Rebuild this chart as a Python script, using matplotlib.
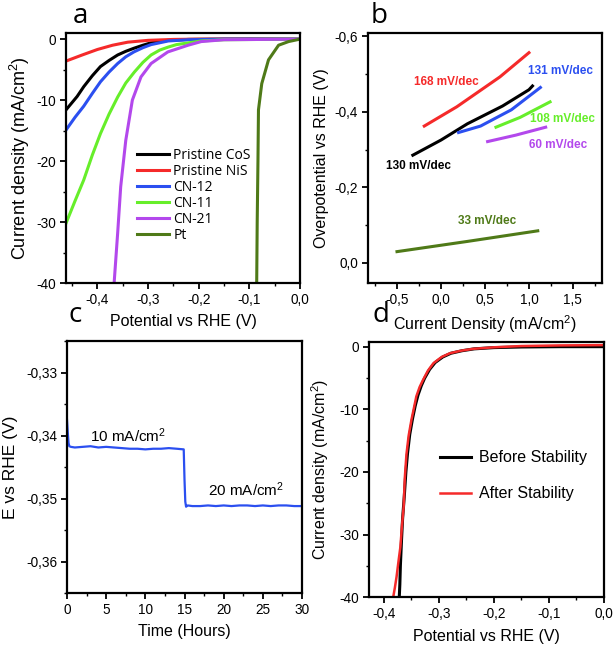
import matplotlib
matplotlib.use('Agg')
import matplotlib.pyplot as plt
from matplotlib.ticker import MultipleLocator, FuncFormatter

plt.rcParams['font.family'] = ['Liberation Sans', 'DejaVu Sans']
plt.rcParams['mathtext.fontset'] = 'custom'
plt.rcParams['mathtext.rm'] = 'Liberation Sans'
plt.rcParams['mathtext.it'] = 'Liberation Sans:italic'

# --- panel a: LSV curves ---
pot_cos = [-0.462, -0.44, -0.427, -0.41, -0.394, -0.377, -0.36, -0.344, -0.328, -0.31, -0.294, -0.26, -0.22, -0.15, 0.0]
cur_cos = [-11.6, -9.4, -7.8, -6.0, -4.5, -3.5, -2.6, -2.0, -1.5, -1.0, -0.6, -0.2, -0.05, 0.0, 0.0]
pot_nis = [-0.462, -0.43, -0.40, -0.37, -0.34, -0.30, -0.25, -0.20, 0.0]
cur_nis = [-3.6, -2.6, -1.7, -1.0, -0.5, -0.2, -0.05, 0.0, 0.0]
pot_cn12 = [-0.462, -0.444, -0.427, -0.41, -0.394, -0.377, -0.36, -0.344, -0.328, -0.31, -0.294, -0.26, -0.22, -0.15, 0.0]
cur_cn12 = [-14.9, -12.8, -11.0, -8.9, -7.0, -5.4, -4.0, -2.9, -2.1, -1.4, -0.9, -0.3, -0.1, 0.0, 0.0]
pot_cn11 = [-0.462, -0.444, -0.427, -0.41, -0.394, -0.377, -0.36, -0.344, -0.327, -0.31, -0.294, -0.277,
            -0.26, -0.244, -0.227, -0.195, -0.15, 0.0]
cur_cn11 = [-30.2, -26.5, -23.1, -19.0, -15.5, -12.3, -9.5, -7.2, -5.4, -3.8, -2.6, -1.8,
            -1.3, -0.9, -0.7, -0.3, -0.1, 0.0]
pot_cn21 = [-0.367, -0.360, -0.354, -0.344, -0.331, -0.314, -0.294, -0.261, -0.221, -0.195, -0.15, 0.0]
cur_cn21 = [-40.0, -31.8, -24.2, -16.6, -10.0, -6.2, -4.0, -2.1, -1.0, -0.4, -0.1, 0.0]
pot_pt = [-0.0855, -0.0845, -0.083, -0.082, -0.0755, -0.0622, -0.0423, -0.0225, 0.0]
cur_pt = [-40.0, -30.0, -20.0, -11.6, -7.3, -3.4, -1.0, -0.4, 0.0]

# --- panel b: Tafel plots ---
taf_cos_j = [-0.32, 0.0, 0.3, 0.7, 1.0, 1.04]
taf_cos_eta = [-0.285, -0.325, -0.368, -0.415, -0.458, -0.468]
taf_nis_j = [-0.19, 0.18, 0.67, 1.0]
taf_nis_eta = [-0.362, -0.413, -0.492, -0.556]
taf_cn12_j = [0.2, 0.45, 0.8, 1.13]
taf_cn12_eta = [-0.345, -0.362, -0.405, -0.464]
taf_cn11_j = [0.625, 0.9, 1.24]
taf_cn11_eta = [-0.359, -0.385, -0.426]
taf_cn21_j = [0.53, 0.85, 1.19]
taf_cn21_eta = [-0.321, -0.338, -0.359]
taf_pt_j = [-0.5, 0.3, 1.1]
taf_pt_eta = [-0.030, -0.057, -0.085]
slope_labels = ['130 mV/dec', '168 mV/dec', '131 mV/dec', '108 mV/dec', '60 mV/dec', '33 mV/dec']
slope_x = [-0.25, 0.06, 1.36, 1.38, 1.33, 0.53]
slope_y = [-0.256, -0.478, -0.507, -0.381, -0.312, -0.111]

# --- panel c: chronopotentiometry ---
time_h = [0, 0.1, 0.2, 0.3, 0.5, 1, 2, 3, 4, 5, 6, 7, 8, 9, 10, 11, 12, 13, 14, 14.9,
          15.0, 15.1, 15.2, 15.4, 16, 17, 18, 19, 20, 21, 22, 23, 24, 25, 26, 27, 28, 29, 30]
e_rhe = [-0.3375, -0.3395, -0.3412, -0.3417, -0.3418, -0.3419, -0.3418, -0.3417, -0.3419, -0.3418,
         -0.3419, -0.3420, -0.3421, -0.3421, -0.3422, -0.3421, -0.3421, -0.3420, -0.3421, -0.3422,
         -0.3470, -0.3505, -0.3513, -0.3511, -0.3512, -0.3512, -0.3511, -0.3512, -0.3511, -0.3512,
         -0.3511, -0.3511, -0.3512, -0.3511, -0.3512, -0.3511, -0.3511, -0.3512, -0.3512]

# --- panel d: before / after stability ---
pot_before = [-0.372, -0.371, -0.370, -0.368, -0.366, -0.363, -0.360, -0.357, -0.353, -0.348, -0.343, -0.338,
              -0.332, -0.326, -0.317, -0.307, -0.293, -0.278, -0.258, -0.236, -0.20, -0.15, -0.08, 0.0]
cur_before = [-40, -38, -35, -31, -27.5, -24, -20, -17, -14, -11.5, -9.4, -7.7,
              -6.2, -5.0, -3.6, -2.5, -1.6, -1.0, -0.6, -0.3, -0.1, 0.0, 0.05, 0.05]
pot_after = [-0.383, -0.380, -0.377, -0.373, -0.370, -0.367, -0.364, -0.362, -0.359, -0.355, -0.350, -0.345,
             -0.341, -0.335, -0.329, -0.320, -0.310, -0.295, -0.280, -0.260, -0.238, -0.20, -0.15, -0.08, 0.0]
cur_after = [-40, -38.5, -36.8, -34, -32, -28.5, -25.5, -21, -17.2, -14.2, -11.7, -9.6,
             -7.9, -6.4, -5.3, -3.8, -2.6, -1.6, -1.0, -0.6, -0.3, -0.05, 0.15, 0.25, 0.3]

BLACK = '#000000'
RED = '#f52a2a'
BLUE = '#2b4ff0'
GREEN = '#66ee2a'
PURPLE = '#b348ec'
OLIVE = '#4f7a18'

TICK_FS = 9.8
LW = 2.2


def comma(fmt):
    return FuncFormatter(lambda v, p: (fmt % v).replace('.', ',').replace('-0,0', '0,0'))


def style_axes(ax):
    for s in ax.spines.values():
        s.set_linewidth(1.6)
    ax.tick_params(which='major', direction='out', length=4, width=1.3, labelsize=TICK_FS,
                   top=False, right=False, pad=3)
    ax.tick_params(which='minor', direction='out', length=2, width=1.0, top=False, right=False)


fig = plt.figure(figsize=(6.14, 6.45), dpi=100)

# panel a
ax_a = fig.add_axes([0.1075, 0.5612, 0.3811, 0.3876])
ax_a.plot(pot_cos, cur_cos, color=BLACK, lw=LW, label='Pristine CoS')
ax_a.plot(pot_nis, cur_nis, color=RED, lw=LW, label='Pristine NiS')
ax_a.plot(pot_cn12, cur_cn12, color=BLUE, lw=LW, label='CN-12')
ax_a.plot(pot_cn11, cur_cn11, color=GREEN, lw=LW, label='CN-11')
ax_a.plot(pot_cn21, cur_cn21, color=PURPLE, lw=LW, label='CN-21')
ax_a.plot(pot_pt, cur_pt, color=OLIVE, lw=LW, label='Pt')
ax_a.set_xlim(-0.462, 0.0)
ax_a.set_ylim(-40, 1)
ax_a.xaxis.set_major_locator(MultipleLocator(0.1))
ax_a.xaxis.set_minor_locator(MultipleLocator(0.05))
ax_a.yaxis.set_major_locator(MultipleLocator(10))
ax_a.yaxis.set_minor_locator(MultipleLocator(5))
ax_a.xaxis.set_major_formatter(comma('%.1f'))
ax_a.yaxis.set_major_formatter(FuncFormatter(lambda v, p: '%d' % v))
style_axes(ax_a)
ax_a.set_xlabel('Potential vs RHE (V)', fontsize=11.5, labelpad=5)
ax_a.set_ylabel('Current density (mA/cm$^2$)', fontsize=13, labelpad=3)
ax_a.legend(loc='upper left', bbox_to_anchor=(0.305, 0.54), frameon=False, handlelength=2.3,
            handletextpad=0.3, labelspacing=0.07, borderaxespad=0, borderpad=0,
            prop={'family': 'Open Sans', 'size': 10})
fig.text(0.118, 0.975, 'a', fontsize=20, family='Open Sans', va='center', ha='left')

# panel b
ax_b = fig.add_axes([0.5993, 0.5612, 0.3811, 0.3876])
ax_b.plot(taf_cos_j, taf_cos_eta, color=BLACK, lw=LW)
ax_b.plot(taf_nis_j, taf_nis_eta, color=RED, lw=LW)
ax_b.plot(taf_cn12_j, taf_cn12_eta, color=BLUE, lw=LW)
ax_b.plot(taf_cn11_j, taf_cn11_eta, color=GREEN, lw=LW)
ax_b.plot(taf_cn21_j, taf_cn21_eta, color=PURPLE, lw=LW)
ax_b.plot(taf_pt_j, taf_pt_eta, color=OLIVE, lw=LW)
for txt, x, y, c in zip(slope_labels, slope_x, slope_y, [BLACK, RED, BLUE, GREEN, PURPLE, OLIVE]):
    ax_b.text(x, y, txt, color=c, fontsize=8.5, fontweight='bold', ha='center', va='center')
ax_b.set_xlim(-0.83, 1.83)
ax_b.set_ylim(0.053, -0.608)
ax_b.xaxis.set_major_locator(MultipleLocator(0.5))
ax_b.xaxis.set_minor_locator(MultipleLocator(0.25))
ax_b.yaxis.set_major_locator(MultipleLocator(0.2))
ax_b.yaxis.set_minor_locator(MultipleLocator(0.1))
ax_b.xaxis.set_major_formatter(comma('%.1f'))
ax_b.yaxis.set_major_formatter(comma('%.1f'))
style_axes(ax_b)
ax_b.set_xlabel('Current Density (mA/cm$^2$)', fontsize=11.5, labelpad=5)
ax_b.set_ylabel('Overpotential vs RHE (V)', fontsize=11.5, labelpad=4)
fig.text(0.604, 0.975, 'b', fontsize=20, family='Open Sans', va='center', ha='left')

# panel c
ax_c = fig.add_axes([0.1091, 0.0806, 0.3828, 0.3907])
ax_c.plot(time_h, e_rhe, color=BLUE, lw=1.6)
ax_c.text(7.8, -0.3401, '10 mA/cm$^2$', fontsize=11, ha='center', va='center')
ax_c.text(22.9, -0.3486, '20 mA/cm$^2$', fontsize=11, ha='center', va='center')
ax_c.set_xlim(0, 30)
ax_c.set_ylim(-0.365, -0.325)
ax_c.xaxis.set_major_locator(MultipleLocator(5))
ax_c.xaxis.set_minor_locator(MultipleLocator(2.5))
ax_c.yaxis.set_major_locator(MultipleLocator(0.01))
ax_c.yaxis.set_minor_locator(MultipleLocator(0.005))
ax_c.xaxis.set_major_formatter(FuncFormatter(lambda v, p: '%d' % v))
ax_c.yaxis.set_major_formatter(comma('%.2f'))
style_axes(ax_c)
ax_c.set_xlabel('Time (Hours)', fontsize=11.5, labelpad=5)
ax_c.set_ylabel('E vs RHE (V)', fontsize=12.5, labelpad=6)
fig.text(0.112, 0.512, 'c', fontsize=20, family='Open Sans', va='center', ha='left')

# panel d
ax_d = fig.add_axes([0.601, 0.0744, 0.3827, 0.3954])
ax_d.plot(pot_before, cur_before, color=BLACK, lw=LW, label='Before Stability')
ax_d.plot(pot_after, cur_after, color=RED, lw=1.8, label='After Stability')
ax_d.set_xlim(-0.427, 0.0)
ax_d.set_ylim(-40, 0.8)
ax_d.xaxis.set_major_locator(MultipleLocator(0.1))
ax_d.xaxis.set_minor_locator(MultipleLocator(0.05))
ax_d.yaxis.set_major_locator(MultipleLocator(10))
ax_d.yaxis.set_minor_locator(MultipleLocator(5))
ax_d.xaxis.set_major_formatter(comma('%.1f'))
ax_d.yaxis.set_major_formatter(FuncFormatter(lambda v, p: '%d' % v))
style_axes(ax_d)
ax_d.set_xlabel('Potential vs RHE (V)', fontsize=11.5, labelpad=6)
ax_d.set_ylabel('Current density (mA/cm$^2$)', fontsize=11.5, labelpad=6)
ax_d.legend(loc='upper left', bbox_to_anchor=(0.30, 0.575), frameon=False, handlelength=2.0,
            handletextpad=0.5, labelspacing=1.3, borderaxespad=0, borderpad=0, fontsize=11.5)
fig.text(0.606, 0.512, 'd', fontsize=20, family='Open Sans', va='center', ha='left')

fig.savefig('out.png', dpi=100)
